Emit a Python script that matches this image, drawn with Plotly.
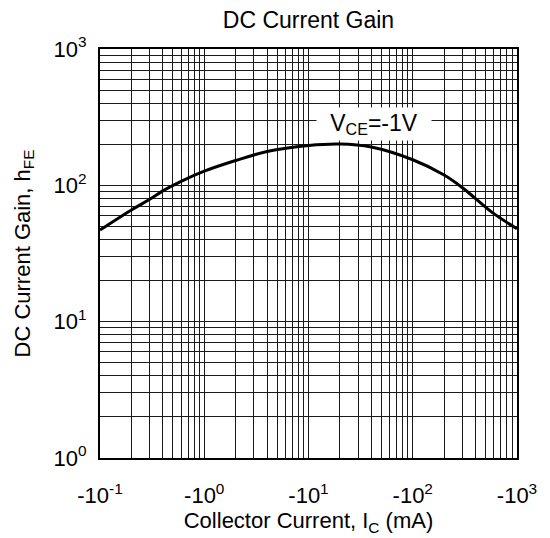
import plotly.graph_objects as go

# Data
ic_ma = [0.1, 0.2, 0.3, 0.4, 0.6, 1.0, 2.0, 4.0, 10, 20, 40, 100, 200, 300, 400, 600, 1000]
hfe = [47, 66, 79, 91, 107, 127, 152, 177, 196, 201, 191, 154, 119, 96, 80, 62, 48]

x_major = [0.1, 1, 10, 100, 1000]
x_ticktext = ["-10<sup>-1</sup>", "-10<sup>0</sup>", "-10<sup>1</sup>", "-10<sup>2</sup>", "-10<sup>3</sup>"]
y_major = [1, 10, 100, 1000]
y_ticktext = ["10<sup>0</sup>", "10<sup>1</sup>", "10<sup>2</sup>", "10<sup>3</sup>"]
minor_mult = [2, 3, 4, 5, 6, 7, 8, 9]

x_minor = [d * m for d in x_major[:-1] for m in minor_mult]
y_minor = [d * m for d in y_major[:-1] for m in minor_mult]

FONT = "Liberation Sans, Arial, sans-serif"
GRID = "#1a1a1a"

fig = go.Figure()
fig.add_trace(go.Scatter(
    x=ic_ma, y=hfe, mode="lines",
    line=dict(color="black", width=3, shape="spline", smoothing=1.0),
    showlegend=False, hoverinfo="skip",
))

axis_common = dict(
    type="log",
    showline=True, mirror=True, linecolor="black", linewidth=2,
    showgrid=True, gridcolor=GRID, gridwidth=1,
    ticks="", zeroline=False,
    tickfont=dict(family=FONT, size=22, color="black"),
)

fig.update_xaxes(
    **axis_common,
    range=[-1, 3],
    ticklabelstandoff=17,
    tickmode="array", tickvals=x_major, ticktext=x_ticktext,
    minor=dict(tickmode="array", tickvals=x_minor, showgrid=True, gridcolor=GRID, gridwidth=1, ticks=""),
    title=dict(text="Collector Current, I<sub>C</sub> (mA)", font=dict(family=FONT, size=22, color="black"), standoff=2),
)
fig.update_yaxes(
    **axis_common,
    range=[0, 3],
    ticklabelstandoff=7,
    tickmode="array", tickvals=y_major, ticktext=y_ticktext,
    minor=dict(tickmode="array", tickvals=y_minor, showgrid=True, gridcolor=GRID, gridwidth=1, ticks=""),
    title=dict(text="DC Current Gain, h<sub>FE</sub>", font=dict(family=FONT, size=22, color="black"), standoff=17),
)

fig.add_annotation(
    x=1.63, y=2.451, xref="x", yref="y",
    text="V<sub>CE</sub>=-1V", showarrow=False,
    font=dict(family=FONT, size=23, color="black"),
    bgcolor="white", width=112, height=30, borderpad=1,
    xanchor="center", yanchor="middle",
)

fig.update_layout(
    width=550, height=538,
    margin=dict(l=100, r=33, t=49, b=73),
    paper_bgcolor="white", plot_bgcolor="white",
    title=dict(text="DC Current Gain", x=0.5, xref="paper", xanchor="center",
               y=1 - 19.5 / 538, yref="container", yanchor="middle",
               font=dict(family=FONT, size=23, color="black")),
)

fig.write_html("out.html", config={"displayModeBar": False},
               post_script="document.body.style.margin='0';")
